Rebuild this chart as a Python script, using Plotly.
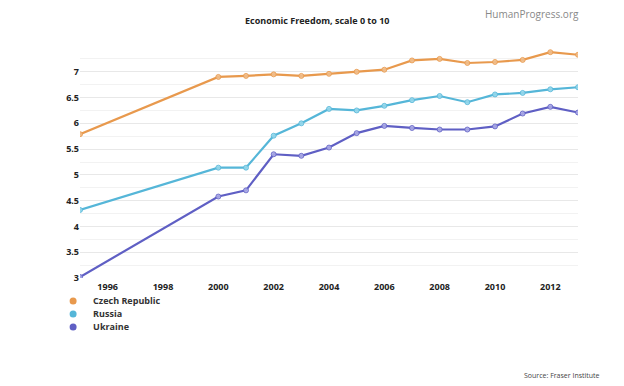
import plotly.graph_objects as go

years = [1995, 2000, 2001, 2002, 2003, 2004, 2005, 2006, 2007, 2008, 2009, 2010, 2011, 2012, 2013]
czech = [5.79, 6.90, 6.92, 6.95, 6.92, 6.96, 7.00, 7.04, 7.22, 7.25, 7.17, 7.19, 7.23, 7.38, 7.33]
russia = [4.32, 5.14, 5.14, 5.76, 6.00, 6.28, 6.25, 6.34, 6.45, 6.53, 6.41, 6.56, 6.59, 6.66, 6.70]
ukraine = [3.02, 4.58, 4.70, 5.40, 5.37, 5.53, 5.81, 5.95, 5.91, 5.88, 5.88, 5.94, 6.19, 6.32, 6.21]

series = [
    ("Czech Republic", czech, "#E8994D", "rgba(240,190,140,0.9)", "legend"),
    ("Russia", russia, "#55B6D8", "rgba(150,215,235,0.9)", "legend2"),
    ("Ukraine", ukraine, "#5F5FC4", "rgba(170,170,230,0.9)", "legend3"),
]

fig = go.Figure()
for name, vals, col, fill, lg in series:
    fig.add_trace(go.Scatter(
        x=years, y=vals, mode="lines+markers", name=name, showlegend=False,
        line=dict(color=col, width=2.2),
        marker=dict(size=5, color=fill, line=dict(color=col, width=0.8)),
        hoverinfo="x+y+name",
    ))
for name, vals, col, fill, lg in series:
    fig.add_trace(go.Scatter(
        x=[None], y=[None], mode="markers", name=name, legend=lg,
        marker=dict(size=7, color=col), showlegend=True,
    ))

legend_font = dict(size=9, color="#333", family="Open Sans", weight="bold")
def leg(y):
    return dict(x=-0.054, y=y, xanchor="left", yanchor="middle", orientation="v",
                font=legend_font, bgcolor="rgba(0,0,0,0)", borderwidth=0)

fig.update_layout(
    width=624, height=386,
    margin=dict(l=72, r=54, t=38, b=116),
    paper_bgcolor="white", plot_bgcolor="white",
    font=dict(family="Open Sans", color="#333"),
    showlegend=True,
    legend=leg(-0.099),
    legend2=leg(-0.155),
    legend3=leg(-0.211),
    xaxis=dict(
        range=[1995, 2013], tick0=1996, dtick=2, showgrid=False, zeroline=False,
        showline=False, ticks="", ticklabelstandoff=2,
        tickfont=dict(size=9, color="#222", family="Open Sans", weight="bold"),
    ),
    yaxis=dict(
        range=[3, 7.5], showgrid=True, gridcolor="#e8e8e8",
        gridwidth=1, zeroline=False, showline=False, ticks="",
        tickvals=[3, 3.5, 4, 4.5, 5, 5.5, 6, 6.5, 7],
        ticktext=["3", "3.5", "4", "4.5", "5", "5.5", "6", "6.5", "7"],
        tickfont=dict(size=9, color="#222", family="Open Sans", weight="bold"),
        minor=dict(dtick=0.25, tick0=3, showgrid=True, gridcolor="#f2f2f2"),
    ),
    annotations=[
        dict(text="<b>Economic Freedom, scale 0 to 10</b>", xref="paper", yref="paper",
             x=0.476, y=1.0, yshift=26, xanchor="center", yanchor="middle", showarrow=False,
             font=dict(size=9, color="#222", family="Open Sans")),
        dict(text="HumanProgress.org", xref="paper", yref="paper",
             x=1.0, y=1.0, xshift=3, yshift=32, xanchor="right", yanchor="middle", showarrow=False,
             font=dict(size=10, color="#888", family="Open Sans")),
        dict(text="Source: Fraser Institute", xref="paper", yref="paper",
             x=1.0, y=0, xshift=24, yshift=-97, xanchor="right", yanchor="middle", showarrow=False,
             font=dict(size=7, color="#444", family="Open Sans")),
    ],
)

fig.write_html("out.html")
